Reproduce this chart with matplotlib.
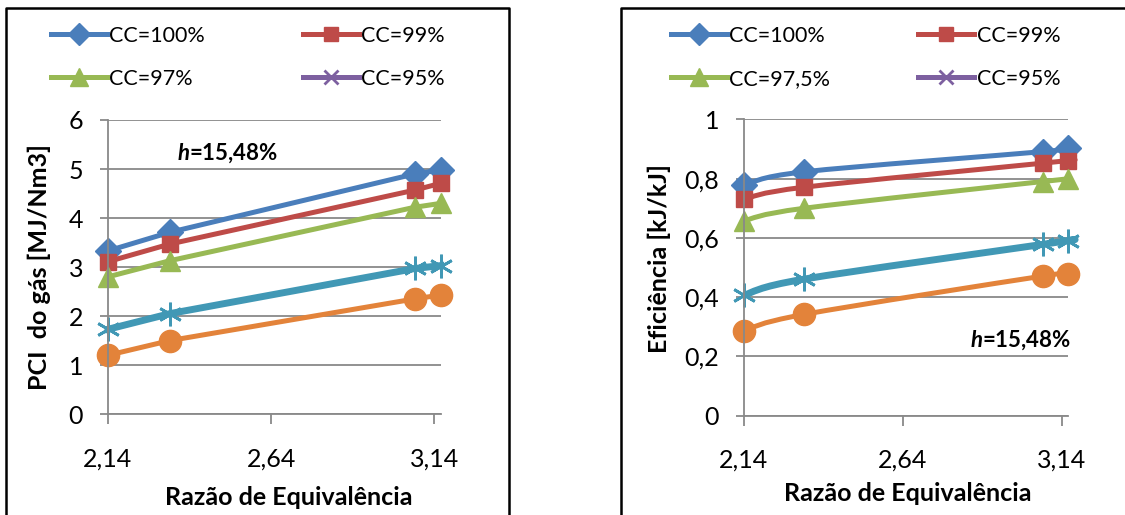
import matplotlib.pyplot as plt
import numpy as np
from matplotlib.lines import Line2D
from matplotlib.path import Path
from matplotlib.patches import PathPatch

plt.rcParams['font.family'] = ['Lato', 'DejaVu Sans']
plt.rcParams['mathtext.fontset'] = 'custom'
plt.rcParams['mathtext.rm'] = 'Lato'
plt.rcParams['mathtext.bf'] = 'Lato:bold'
plt.rcParams['mathtext.bfit'] = 'Lato:italic:bold'

# Razão de equivalência
x_eq = [2.14, 2.33, 3.08, 3.16]

# PCI do gás [MJ/Nm3]
pci_100 = [3.33, 3.71, 4.90, 4.98]
pci_99 = [3.11, 3.47, 4.57, 4.71]
pci_97 = [2.80, 3.13, 4.22, 4.30]
pci_ast = [1.73, 2.05, 2.97, 3.03]
pci_circ = [1.20, 1.50, 2.35, 2.43]

# Eficiência [kJ/kJ]
ef_100 = [0.778, 0.823, 0.891, 0.902]
ef_99 = [0.731, 0.771, 0.852, 0.861]
ef_975 = [0.658, 0.700, 0.790, 0.798]
ef_ast = [0.407, 0.461, 0.578, 0.591]
ef_circ = [0.287, 0.342, 0.471, 0.478]

labels_left = ['CC=100%', 'CC=99%', 'CC=97%', 'CC=95%']
labels_right = ['CC=100%', 'CC=99%', 'CC=97,5%', 'CC=95%']
xticks = [2.14, 2.64, 3.14]
xtick_labels = ['2,14', '2,64', '3,14']

BLUE = '#4A7EBB'
RED = '#BE4B48'
GREEN = '#98B954'
PURPLE = '#7D60A0'
CYAN = '#4198B5'
ORANGE = '#E3833A'
GRID = '#898989'

FS = 18        # eixos
FS_LEG = 15.5  # legenda
FS_NOTE = 16   # anotação

styles = [
    dict(color=BLUE, marker='D', markersize=13, lw=3.6),
    dict(color=RED, marker='s', markersize=12, lw=3.6),
    dict(color=GREEN, marker='^', markersize=15, lw=3.6),
    dict(color=CYAN, marker=(6, 2, 0), markersize=17, lw=5, mew=2),
    dict(color=ORANGE, marker='o', markersize=16, lw=3.6),
]
purple_style = dict(color=PURPLE, marker='x', markersize=12, lw=3.6, mew=2)


def smooth_path(x, y):
    # curva suavizada (Catmull-Rom convertida em Bezier cúbica)
    pts = np.column_stack([x, y])
    n = len(pts)
    verts = [pts[0]]
    codes = [Path.MOVETO]
    for i in range(n - 1):
        p0 = pts[max(i - 1, 0)]
        p1 = pts[i]
        p2 = pts[i + 1]
        p3 = pts[min(i + 2, n - 1)]
        verts += [p1 + (p2 - p0) / 6, p2 - (p3 - p1) / 6, p2]
        codes += [Path.CURVE4] * 3
    return Path(verts, codes)


def legend_handle(st):
    return Line2D([], [], color=st['color'], lw=3.6, marker=st['marker'],
                  markersize=st['markersize'] * 0.85, mew=st.get('mew', 1))


def style_axes(ax, ymax, ystep, yfmt):
    ax.set_xlim(2.14, 3.16)
    ax.set_ylim(0, ymax)
    ax.set_xticks(xticks)
    ax.set_xticklabels(xtick_labels)
    yt = np.arange(0, ymax + ystep / 2, ystep)
    ax.set_yticks(yt)
    ax.set_yticklabels([yfmt(v) for v in yt])
    ax.grid(axis='y', color=GRID, lw=1.3)
    ax.set_axisbelow(True)
    for s in ['top', 'right']:
        ax.spines[s].set_visible(False)
    for s in ['left', 'bottom']:
        ax.spines[s].set_color(GRID)
        ax.spines[s].set_linewidth(1.3)
    ax.tick_params(axis='y', length=6, width=1.3, color=GRID, labelsize=FS, pad=12)
    ax.tick_params(axis='x', length=7, width=1.3, color=GRID, labelsize=FS, pad=17)


fig = plt.figure(figsize=(11.25, 5.15), dpi=100)

# --- PCI do gás ---
ax1 = fig.add_axes([0.096, 0.196, 0.296, 0.571])
series1 = [pci_100, pci_99, pci_97, pci_ast, pci_circ]
for ys, st in zip(series1, styles):
    ax1.plot(x_eq, ys, color=st['color'], lw=st['lw'], marker=st['marker'],
             markersize=st['markersize'], mew=st.get('mew', 1), clip_on=False,
             solid_joinstyle='round')
style_axes(ax1, 6, 1, lambda v: '%d' % v)
ax1.set_ylabel('PCI  do gás [MJ/Nm3]', fontsize=FS, fontweight='bold')
ax1.yaxis.set_label_coords(-0.171, 0.5)
ax1.set_xlabel('Razão de Equivalência', fontsize=FS, fontweight='bold')
ax1.xaxis.set_label_coords(0.543, -0.245)
ax1.text(2.35, 5.33, r'$\mathbfit{h}$=15,48%', fontsize=FS_NOTE, fontweight='bold',
         ha='left', va='center')

# --- Eficiência ---
ax2 = fig.add_axes([0.6613, 0.1928, 0.288, 0.5755])
series2 = [ef_100, ef_99, ef_975, ef_ast, ef_circ]
for ys, st in zip(series2, styles):
    ax2.add_patch(PathPatch(smooth_path(x_eq, ys), fill=False, ec=st['color'],
                            lw=st['lw'], clip_on=False, joinstyle='round'))
    ax2.plot(x_eq, ys, ls='none', color=st['color'], marker=st['marker'],
             markersize=st['markersize'], mew=st.get('mew', 1), clip_on=False)
style_axes(ax2, 1, 0.2, lambda v: ('%g' % round(v, 1)).replace('.', ','))
ax2.set_ylabel('Eficiência [kJ/kJ]', fontsize=FS, fontweight='bold')
ax2.yaxis.set_label_coords(-0.225, 0.532)
ax2.set_xlabel('Razão de Equivalência', fontsize=FS, fontweight='bold')
ax2.xaxis.set_label_coords(0.506, -0.225)
ax2.text(3.17, 0.2555, r'$\mathbfit{h}$=15,48%', fontsize=FS_NOTE, fontweight='bold',
         ha='right', va='center')

# legendas (ordem por coluna: 100, 97, 99, 95)
leg_styles = [styles[0], styles[2], styles[1], purple_style]
handles = [legend_handle(st) for st in leg_styles]
for labels, x0, colsp in [(labels_left, 51, 4.55), (labels_right, 671, 4.1)]:
    fig.legend(handles, [labels[0], labels[2], labels[1], labels[3]], ncol=2,
               loc='upper left', bbox_to_anchor=(x0 / 1125, 1 - 26 / 515),
               frameon=False, fontsize=FS_LEG, handlelength=2.6, handletextpad=0.1,
               columnspacing=colsp, labelspacing=1.05, borderpad=0,
               borderaxespad=0, numpoints=1)

# molduras dos dois gráficos
top = 1 - 8 / 515
fig.add_artist(Line2D([6 / 1125, 6 / 1125, 509 / 1125, 509 / 1125], [0, top, top, 0],
                      color='black', lw=1.8, transform=fig.transFigure))
fig.add_artist(Line2D([621 / 1125, 621 / 1125, 1], [0, top, top],
                      color='black', lw=1.8, transform=fig.transFigure))

fig.savefig('out.png', dpi=100)
